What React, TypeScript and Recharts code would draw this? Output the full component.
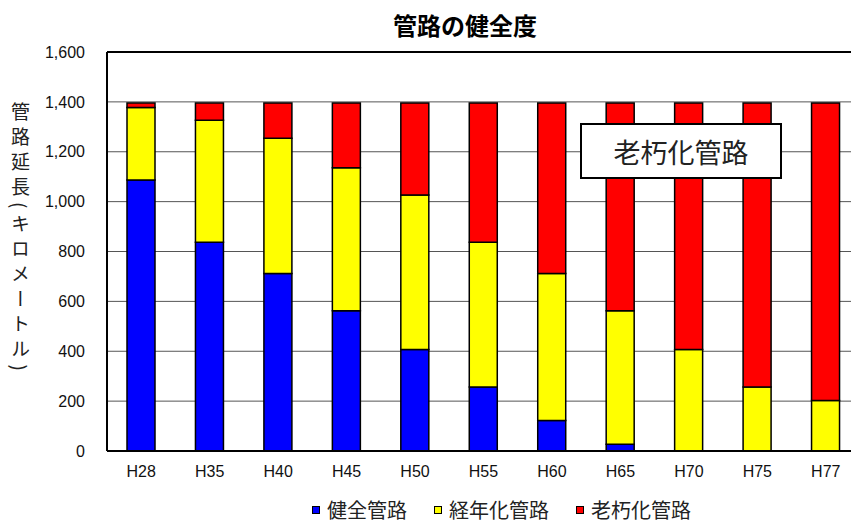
import React from "react";
import {
  BarChart,
  Bar,
  XAxis,
  YAxis,
  CartesianGrid,
  ReferenceLine,
} from "recharts";

// 年度（平成）
const years = ["H28", "H35", "H40", "H45", "H50", "H55", "H60", "H65", "H70", "H75", "H77"];

// 管路延長（km）
const healthy = [1087, 837, 712, 562, 407, 257, 122, 27, 0, 0, 0];
const aging = [290, 489, 542, 574, 620, 580, 590, 535, 407, 257, 203];
const decrepit = [18, 69, 141, 259, 368, 558, 683, 833, 988, 1138, 1192];

const yTicks = [0, 200, 400, 600, 800, 1000, 1200, 1400, 1600];
const boundaryTicks = [1, 2, 3, 4, 5, 6, 7, 8, 9, 10];

const series = [
  { key: "healthy", name: "健全管路", color: "#0000FF" },
  { key: "aging", name: "経年化管路", color: "#FFFF00" },
  { key: "decrepit", name: "老朽化管路", color: "#FF0000" },
];

const data = years.map((y, i) => ({
  year: y,
  healthy: healthy[i],
  aging: aging[i],
  decrepit: decrepit[i],
}));

const JP = '"Noto Sans CJK JP", "Noto Sans", sans-serif';
const NUM = '"Liberation Sans", Arial, sans-serif';

export default function App() {
  return (
    <div
      style={{
        position: "absolute",
        left: 0,
        top: 0,
        width: 851,
        height: 523,
        overflow: "hidden",
        background: "#fff",
      }}
    >
      <div
        style={{
          position: "absolute",
          left: 365,
          top: 8,
          width: 200,
          textAlign: "center",
          fontFamily: JP,
          fontWeight: 700,
          fontSize: 24,
          lineHeight: "34px",
          color: "#000",
        }}
      >
        管路の健全度
      </div>

      <div
        style={{
          position: "absolute",
          left: 9,
          top: 102,
          writingMode: "vertical-rl",
          fontFamily: JP,
          fontSize: 19,
          lineHeight: "22px",
          letterSpacing: 6,
          color: "#222",
        }}
      >
        管路延長(キロメートル)
      </div>

      <BarChart
        width={870}
        height={523}
        data={data}
        margin={{ top: 52, right: 10, bottom: 42, left: 0 }}
        barSize={28}
      >
        <CartesianGrid vertical={false} stroke="#555" strokeWidth={1} />
        <XAxis
          xAxisId="bounds"
          type="number"
          domain={[0, 11]}
          ticks={boundaryTicks}
          tick={false}
          axisLine={false}
          tickLine={{ stroke: "#555", strokeWidth: 1 }}
          tickSize={6}
          mirror
          height={0}
          allowDataOverflow
        />
        <XAxis
          dataKey="year"
          height={30}
          axisLine={{ stroke: "#000", strokeWidth: 2 }}
          tickLine={false}
          tickSize={0}
          tickMargin={15}
          tick={{ fill: "#111", fontSize: 16, fontFamily: NUM }}
          interval={0}
        />
        <YAxis
          width={107}
          domain={[0, 1600]}
          ticks={yTicks}
          tickFormatter={(v: number) => v.toLocaleString("en-US")}
          axisLine={{ stroke: "#000", strokeWidth: 2 }}
          tickLine={false}
          tickSize={0}
          tickMargin={22}
          tick={{ fill: "#111", fontSize: 16, fontFamily: NUM }}
        />
        <ReferenceLine y={1600} stroke="#000" strokeWidth={2} />
        {series.map((s) => (
          <Bar
            key={s.key}
            dataKey={s.key}
            name={s.name}
            stackId="total"
            fill={s.color}
            stroke="#000"
            strokeWidth={1.5}
            isAnimationActive={false}
          />
        ))}
      </BarChart>

      <div
        style={{
          position: "absolute",
          left: 580,
          top: 123,
          width: 198,
          height: 52,
          border: "2px solid #000",
          background: "#fff",
          display: "flex",
          alignItems: "center",
          justifyContent: "center",
          fontFamily: JP,
          fontSize: 27,
          color: "#222",
        }}
      >
        老朽化管路
      </div>

      <div
        style={{
          position: "absolute",
          left: 312,
          top: 499,
          display: "flex",
          alignItems: "center",
          fontFamily: JP,
          fontSize: 20,
          lineHeight: "22px",
          color: "#222",
        }}
      >
        {series.map((s, i) => (
          <div
            key={s.key}
            style={{
              display: "flex",
              alignItems: "center",
              marginRight: i < series.length - 1 ? 27 : 0,
            }}
          >
            <span
              style={{
                display: "inline-block",
                width: 6,
                height: 6,
                border: "1.5px solid #000",
                background: s.color,
                marginRight: 7,
              }}
            />
            <span>{s.name}</span>
          </div>
        ))}
      </div>
    </div>
  );
}
